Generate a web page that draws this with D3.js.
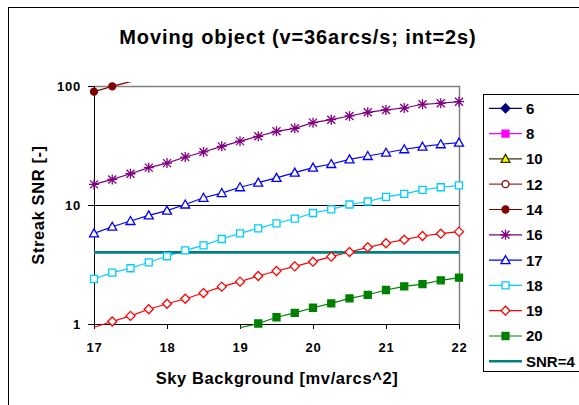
<!DOCTYPE html>
<html>
<head>
<meta charset="utf-8">
<script src="https://cdn.jsdelivr.net/npm/d3@7"></script>
<style>
  body { margin: 0; background: #fff; }
  svg text { font-family: Arial, "Liberation Sans", sans-serif; font-weight: bold; fill: #000; }
</style>
</head>
<body>
<div id="chart"></div>
<script>
// sky background values (x axis)
const skyBg = [17, 17.25, 17.5, 17.75, 18, 18.25, 18.5, 18.75, 19, 19.25, 19.5,
               19.75, 20, 20.25, 20.5, 20.75, 21, 21.25, 21.5, 21.75, 22];
const xTicks = [17, 18, 19, 20, 21, 22];
const yTicks = [1, 10, 100];

// streak SNR per object magnitude (null = not plotted)
const snr6 = [];
const snr8 = [];
const snr10 = [];
const snr12 = [];
const snr14 = [89.6, 99.4, 109, 119, null, null, null, null, null, null, null,
               null, null, null, null, null, null, null, null, null, null];
const snr16 = [14.9, 16.4, 18.3, 20.6, 22.5, 25.3, 27.9, 31.1, 34.4, 37.8, 41.6,
               44.1, 49.2, 52.1, 56.0, 60.1, 62.9, 65.3, 70.2, 71.6, 73.8];
const snr17 = [5.78, 6.57, 7.34, 8.19, 8.96, 10.1, 11.5, 12.6, 14.1, 15.4, 16.9,
               18.7, 20.6, 22.1, 24.2, 25.8, 27.5, 29.4, 30.9, 32.4, 33.4];
const snr18 = [2.39, 2.70, 2.94, 3.30, 3.71, 4.16, 4.58, 5.18, 5.78, 6.37, 7.02,
               7.67, 8.57, 9.20, 10.1, 10.7, 11.7, 12.4, 13.4, 14.1, 14.6];
const snr19 = [0.94, 1.05, 1.17, 1.33, 1.48, 1.63, 1.82, 2.06, 2.27, 2.53, 2.79,
               3.05, 3.34, 3.68, 4.03, 4.41, 4.77, 5.11, 5.49, 5.74, 5.97];
const snr20 = [null, null, null, null, null, null, null, null, 0.93, 1.01, 1.14,
               1.24, 1.37, 1.49, 1.64, 1.76, 1.93, 2.07, 2.16, 2.33, 2.45];
const snrLimit = 4;

const series = [
  {name: "6",  values: snr6,  color: "#000080", marker: "diamond", fill: "#000080"},
  {name: "8",  values: snr8,  color: "#ff00ff", marker: "square",  fill: "#ff00ff"},
  {name: "10", values: snr10, color: "#333300", marker: "triangle", fill: "#ffff00"},
  {name: "12", values: snr12, color: "#993333", marker: "circle",  fill: "#fff", mcolor: "#800000"},
  {name: "14", values: snr14, color: "#800000", marker: "circle",  fill: "#800000"},
  {name: "16", values: snr16, color: "#800080", marker: "star",    fill: "none"},
  {name: "17", values: snr17, color: "#0000ff", marker: "triangle", fill: "#fff"},
  {name: "18", values: snr18, color: "#00ccff", marker: "square",  fill: "#fff"},
  {name: "19", values: snr19, color: "#ff0000", marker: "diamond", fill: "#fff"},
  {name: "20", values: snr20, color: "#008000", marker: "square",  fill: "#008000"}
];

const W = 579, H = 405;
const svg = d3.select("#chart").append("svg").attr("width", W).attr("height", H);

// chart area border
svg.append("rect").attr("x", 8.5).attr("y", 7.5).attr("width", 620).attr("height", 420)
  .attr("fill", "#fff").attr("stroke", "#000");

const x = d3.scaleLinear().domain([17, 22]).range([94, 459]);
const y = d3.scaleLog().domain([1, 100]).range([324, 86]);

// plot frame (top/right grey)
svg.append("path")
  .attr("d", `M${x(17)},${y(100) + 0.5}H${x(22) + 0.5}V${y(1)}`)
  .attr("fill", "none").attr("stroke", "#808080").attr("stroke-width", 1.5);

// gridlines
svg.append("g").selectAll("line").data([10]).join("line")
  .attr("x1", x(17)).attr("x2", x(22))
  .attr("y1", d => Math.round(y(d)) + 0.5).attr("y2", d => Math.round(y(d)) + 0.5)
  .attr("stroke", "#000").attr("stroke-width", 1);

// axes
const xAxis = svg.append("g").attr("transform", `translate(0,${y(1)})`)
  .call(d3.axisBottom(x).tickValues(xTicks).tickSize(5).tickPadding(14).tickFormat(d3.format("d")));
const yAxis = svg.append("g").attr("transform", `translate(${x(17)},0)`)
  .call(d3.axisLeft(y).tickValues(yTicks).tickSize(6).tickPadding(7).tickFormat(d3.format("d")));
[xAxis, yAxis].forEach(a => {
  a.attr("font-family", null).attr("font-size", null);
  a.selectAll("text").style("font-size", "13px").style("letter-spacing", "0.8px");
  a.selectAll("line, path").attr("stroke", "#000");
});

svg.append("defs").append("clipPath").attr("id", "plotclip")
  .append("rect").attr("x", x(17) - 2).attr("y", y(100) - 4)
  .attr("width", x(22) - x(17) + 6).attr("height", y(1) - y(100) + 9);

function markerPath(type) {
  switch (type) {
    case "diamond": return "M0,-4.5L4.5,0L0,4.5L-4.5,0Z";
    case "square": return "M-3.5,-3.5H3.5V3.5H-3.5Z";
    case "triangle": return "M0,-4.5L4.5,3.5H-4.5Z";
    case "circle": return d3.symbol(d3.symbolCircle, 38)();
    case "star": return "M-4,-4L4,4M-4,4L4,-4M0,-5V5M-5,0H5";
  }
}

const line = d3.line()
  .defined(d => d.v != null)
  .x(d => x(d.x)).y(d => y(d.v));

const plot = svg.append("g").attr("clip-path", "url(#plotclip)");
series.forEach(s => {
  const pts = s.values.map((v, i) => ({x: skyBg[i], v: v}));
  if (!pts.length) return;
  plot.append("path").datum(pts).attr("d", line)
    .attr("fill", "none").attr("stroke", s.color).attr("stroke-width", 1.2);
  svg.append("g").selectAll("path")
    .data(pts.filter(d => d.v != null && d.v >= 0.99 && d.v <= 100))
    .join("path")
    .attr("transform", d => `translate(${x(d.x)},${y(d.v)})`)
    .attr("d", markerPath(s.marker))
    .attr("fill", s.fill).attr("stroke", s.mcolor || s.color).attr("stroke-width", 1.3);
});

// SNR=4 limit
plot.append("line")
  .attr("x1", x(17)).attr("x2", x(22)).attr("y1", y(snrLimit)).attr("y2", y(snrLimit))
  .attr("stroke", "#008080").attr("stroke-width", 2.6);

// titles
svg.append("text").attr("x", 298).attr("y", 44).attr("text-anchor", "middle")
  .style("font-size", "20px").style("letter-spacing", "0.9px")
  .text("Moving object (v=36arcs/s; int=2s)");
svg.append("text").attr("x", 277).attr("y", 384).attr("text-anchor", "middle")
  .style("font-size", "16.5px").style("letter-spacing", "0.6px")
  .text("Sky Background [mv/arcs^2]");
svg.append("text").attr("transform", "translate(44,205) rotate(-90)").attr("text-anchor", "middle")
  .style("font-size", "16.5px").style("letter-spacing", "0.6px")
  .text("Streak SNR [-]");

// legend
const lg = svg.append("g");
lg.append("rect").attr("x", 483.5).attr("y", 94.5).attr("width", 120).attr("height", 277)
  .attr("fill", "#fff").attr("stroke", "#000");
const legendItems = series.concat([{name: "SNR=" + snrLimit, color: "#008080", marker: null, width: 2.6}]);
const item = lg.selectAll("g").data(legendItems).join("g")
  .attr("transform", (d, i) => `translate(0,${108.3 + i * 25.3})`);
item.append("line").attr("x1", 489).attr("x2", 522)
  .attr("stroke", d => d.color).attr("stroke-width", d => d.width || 1.2);
item.filter(d => d.marker).append("path")
  .attr("transform", "translate(505.5,0)")
  .attr("d", d => markerPath(d.marker))
  .attr("fill", d => d.fill).attr("stroke", d => d.mcolor || d.color).attr("stroke-width", 1.3);
item.append("text").attr("x", 526).attr("dy", "0.36em")
  .style("font-size", "15px").text(d => d.name);
</script>
</body>
</html>
